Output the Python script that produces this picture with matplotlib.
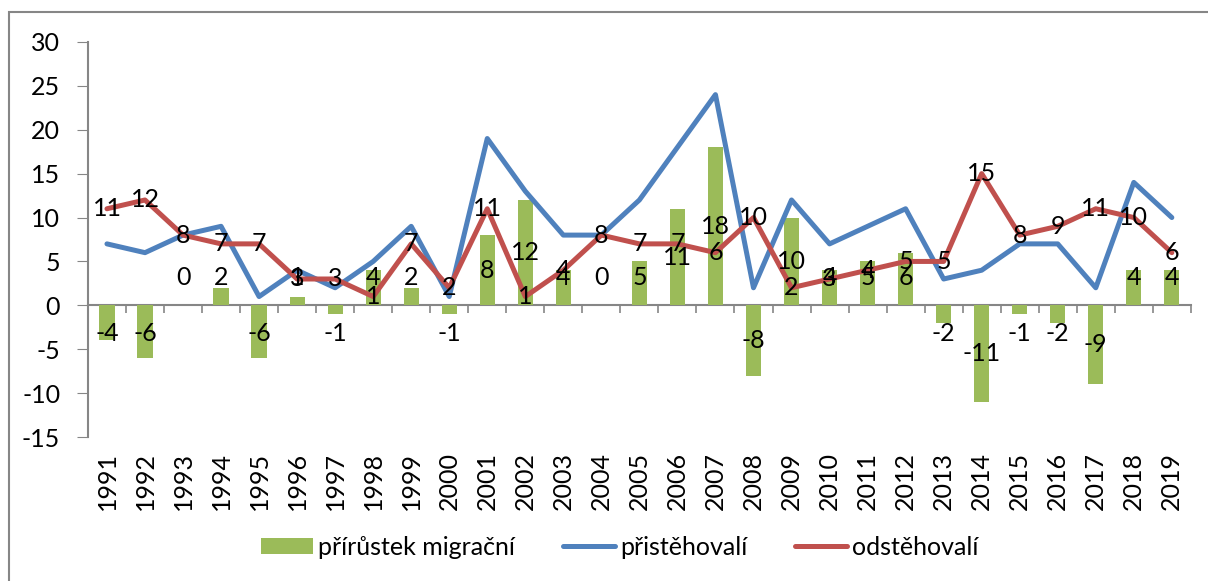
import matplotlib.pyplot as plt
import matplotlib.patches as patches
import numpy as np

plt.rcParams["font.family"] = ["Lato", "DejaVu Sans"]
plt.rcParams["axes.unicode_minus"] = False

years = list(range(1991, 2020))
prirustek = [-4, -6, 0, 2, -6, 1, -1, 4, 2, -1, 8, 12, 4, 0, 5, 11, 18, -8, 10, 4,
             5, 6, -2, -11, -1, -2, -9, 4, 4]
pristehovali = [7, 6, 8, 9, 1, 4, 2, 5, 9, 1, 19, 13, 8, 8, 12, 18, 24, 2, 12, 7,
                9, 11, 3, 4, 7, 7, 2, 14, 10]
odstehovali = [11, 12, 8, 7, 7, 3, 3, 1, 7, 2, 11, 1, 4, 8, 7, 7, 6, 10, 2, 3,
               4, 5, 5, 15, 8, 9, 11, 10, 6]

GREEN = "#9BBB59"
BLUE = "#4F81BD"
RED = "#C0504D"
GRAY = "#868686"
FS = 18

fig = plt.figure(figsize=(12.08, 5.81), dpi=100)
ax = fig.add_axes([0.0728, 0.2478, 0.913, 0.680])

x = np.arange(len(years))
ax.bar(x, prirustek, width=0.4, color=GREEN, label="přírůstek migrační", zorder=2)
ax.plot(x, pristehovali, color=BLUE, lw=3.6, label="přistěhovalí", zorder=3,
        solid_joinstyle="round", solid_capstyle="round")
ax.plot(x, odstehovali, color=RED, lw=3.6, label="odstěhovalí", zorder=4,
        solid_joinstyle="round", solid_capstyle="round")

# data labels (bars: centre of bar, but not closer to the axis than ~3)
for xi, v in zip(x, prirustek):
    y = np.sign(v) * max(abs(v) / 2, 3.2) if v != 0 else 3.2
    ax.text(xi, y, str(v), ha="center", va="center", fontsize=FS, zorder=5)
for xi, v in zip(x, odstehovali):
    ax.text(xi, v, str(v), ha="center", va="center", fontsize=FS, zorder=5)

ax.set_xlim(-0.5, len(years) - 0.5)
ax.set_ylim(-15, 30)
ax.set_yticks(range(-15, 31, 5))
ax.tick_params(axis="y", direction="out", length=8, color=GRAY, labelsize=FS, pad=12)

ax.set_xticks(x)
ax.set_xticklabels([str(y) for y in years], rotation=90)
ax.tick_params(axis="x", length=0, labelsize=FS, pad=11)

for s in ["top", "right", "bottom"]:
    ax.spines[s].set_visible(False)
ax.spines["left"].set_color(GRAY)
ax.spines["left"].set_linewidth(1.5)

# category axis crossing at zero
sec = ax.secondary_xaxis(15 / 45)
sec.set_xticks(np.arange(-0.5, len(years), 1.0))
sec.set_xticklabels([])
sec.tick_params(direction="out", length=6, color=GRAY, width=1.2)
sec.spines["bottom"].set_color(GRAY)
sec.spines["bottom"].set_linewidth(1.5)

handles, labels = ax.get_legend_handles_labels()
order = [2, 0, 1]
fig.legend([handles[i] for i in order], [labels[i] for i in order],
           loc="center", bbox_to_anchor=(0.513, 0.058), ncol=3, frameon=False,
           fontsize=FS, handlelength=2.1, handleheight=0.65, columnspacing=1.9,
           handletextpad=0.2)

# outer chart frame
fig.patches.append(patches.Rectangle((9 / 1208, -0.1), 1.2, 1 - 12 / 581 + 0.1,
                                     transform=fig.transFigure, fill=False,
                                     edgecolor=GRAY, linewidth=1.5))

fig.savefig("out.png", dpi=100)
